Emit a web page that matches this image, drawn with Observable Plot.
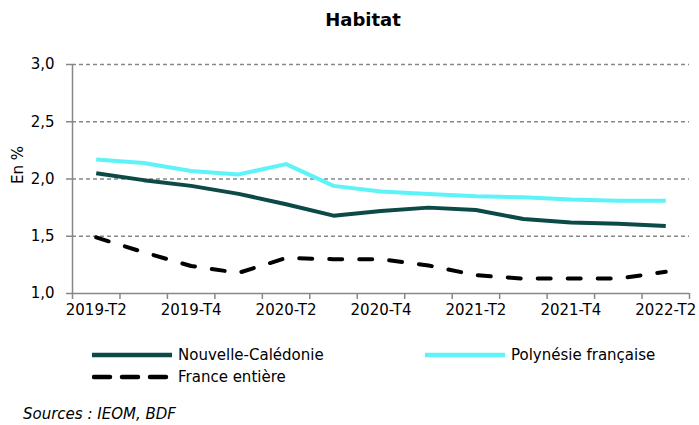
<!DOCTYPE html>
<html>
<head>
<meta charset="utf-8">
<script src="https://cdn.jsdelivr.net/npm/d3@7"></script>
<script src="https://cdn.jsdelivr.net/npm/@observablehq/plot@0.6"></script>
<style>
  html, body { margin: 0; padding: 0; background: #fff; }
  body { position: relative; width: 699px; height: 425px; overflow: hidden; font-family: "DejaVu Sans", Verdana, sans-serif; color: #000; }
  #title { position: absolute; left: 27px; width: 672px; top: 9px; line-height: 22px; text-align: center; font-weight: bold; font-size: 18px; }
  #chart { position: absolute; left: 0; top: 40px; }
  .leg { position: absolute; height: 20px; display: flex; align-items: center; font-size: 15px; line-height: 20px; white-space: nowrap; }
  .leg svg { margin-right: 6px; }
  #caption { position: absolute; left: 23px; top: 405px; font-style: italic; font-size: 15px; line-height: 18px; }
</style>
</head>
<body>
<div id="title">Habitat</div>
<div id="chart"></div>
<div id="legend"></div>
<div id="caption">Sources : IEOM, BDF</div>
<script>
// ---- Data ----
const quarters = ["2019-T2","2019-T3","2019-T4","2020-T1","2020-T2","2020-T3","2020-T4","2021-T1","2021-T2","2021-T3","2021-T4","2022-T1","2022-T2"];
const labeledQuarters = ["2019-T2","2019-T4","2020-T2","2020-T4","2021-T2","2021-T4","2022-T2"];
const nouvelleCaledonie = [2.05, 1.99, 1.94, 1.87, 1.78, 1.68, 1.72, 1.75, 1.73, 1.65, 1.62, 1.61, 1.59];
const polynesieFrancaise = [2.17, 2.14, 2.07, 2.04, 2.13, 1.94, 1.89, 1.87, 1.85, 1.84, 1.82, 1.81, 1.81];
const franceEntiere = [1.49, 1.36, 1.24, 1.18, 1.31, 1.30, 1.30, 1.245, 1.16, 1.13, 1.13, 1.13, 1.19];
const yTicks = [1.0, 1.5, 2.0, 2.5, 3.0];
const seriesNames = ["Nouvelle-Calédonie", "Polynésie française", "France entière"];

// ---- Styles ----
const styles = {
  "Nouvelle-Calédonie": {stroke: "#0b4a47", dash: null},
  "Polynésie française": {stroke: "#5ef3f8", dash: null},
  "France entière": {stroke: "#000000", dash: "13,17"}
};

const seriesValues = [nouvelleCaledonie, polynesieFrancaise, franceEntiere];
const rows = [];
seriesNames.forEach((s, k) => {
  seriesValues[k].forEach((v, i) => rows.push({series: s, i, quarter: quarters[i], v}));
});

const grey = "#878787";
const fmt = d => d.toFixed(1).replace(".", ",");
const edges = d3.range(quarters.length + 1).map(i => i - 0.5);
const labelIdx = labeledQuarters.map(q => quarters.indexOf(q));

const lineMark = s => Plot.line(rows.filter(r => r.series === s), {
  x: "i", y: "v",
  stroke: styles[s].stroke,
  strokeWidth: 4,
  strokeDasharray: styles[s].dash || undefined,
  strokeLinecap: styles[s].dash ? "round" : "butt",
  strokeLinejoin: "round",
  curve: "linear"
});

const chart = Plot.plot({
  width: 699,
  height: 290,
  marginLeft: 72,
  marginRight: 10,
  marginTop: 24,
  marginBottom: 37,
  style: {fontFamily: "'DejaVu Sans', Verdana, sans-serif", fontSize: "15px", color: "#000", background: "#fff", overflow: "visible"},
  x: {type: "linear", domain: [-0.5, quarters.length - 0.5]},
  y: {domain: [1, 3]},
  marks: [
    Plot.gridY(yTicks.filter(d => d > 1), {stroke: grey, strokeOpacity: 1, strokeDasharray: "4,3", strokeWidth: 1.4}),
    Plot.ruleY([1], {stroke: grey, strokeWidth: 1.5}),
    Plot.ruleX([-0.5], {stroke: grey, strokeWidth: 1.5}),
    Plot.axisY(yTicks, {tickSize: 6, tickPadding: 12, tickFormat: fmt, stroke: grey, strokeWidth: 1.5, fill: "#000", fontSize: 15, label: null}),
    Plot.axisX(edges, {tickSize: 6, tickFormat: () => "", stroke: grey, strokeWidth: 1.5, label: null}),
    Plot.axisX(labelIdx, {tickSize: 0, tickPadding: 11, tickFormat: i => quarters[i], fill: "#000", fontSize: 15, label: null}),
    Plot.text(["En %"], {frameAnchor: "left", rotate: -90, dx: -54, dy: 5, fontSize: 15, fill: "#000"}),
    lineMark("France entière"),
    lineMark("Polynésie française"),
    lineMark("Nouvelle-Calédonie")
  ]
});
document.getElementById("chart").appendChild(chart);

// ---- Legend ----
const legendPos = {
  "Nouvelle-Calédonie": {left: 92, top: 345},
  "Polynésie française": {left: 425, top: 345},
  "France entière": {left: 92, top: 367}
};
const legend = document.getElementById("legend");
seriesNames.forEach(s => {
  const st = styles[s];
  const div = document.createElement("div");
  div.className = "leg";
  div.style.left = legendPos[s].left + "px";
  div.style.top = legendPos[s].top + "px";
  const dashAttr = st.dash ? ` stroke-dasharray="16,12" stroke-linecap="round"` : "";
  const x1 = st.dash ? 2 : 0, x2 = st.dash ? 78 : 80;
  div.innerHTML = `<svg width="80" height="8"><line x1="${x1}" y1="4" x2="${x2}" y2="4" stroke="${st.stroke}" stroke-width="4.5"${dashAttr}/></svg><span>${s}</span>`;
  legend.appendChild(div);
});
</script>
</body>
</html>
